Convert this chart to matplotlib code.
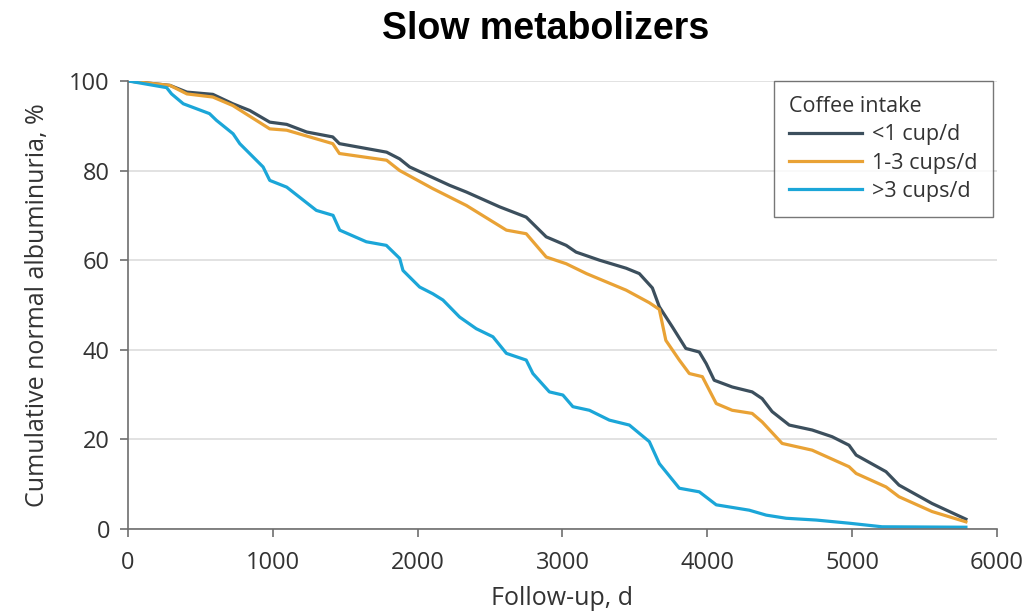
import matplotlib.pyplot as plt
import numpy as np

plt.rcParams['font.family'] = ['Open Sans', 'DejaVu Sans']

# Follow-up days and cumulative normal albuminuria (%)
days_low = [0, 290, 407, 586, 724, 841, 979, 1096, 1234, 1414, 1460, 1786, 1876,
            1945, 2221, 2337, 2566, 2750, 2888, 3026, 3094, 3255, 3440, 3531,
            3621, 3669, 3759, 3852, 3945, 3993, 4048, 4172, 4310, 4379, 4448,
            4566, 4724, 4862, 4979, 5028, 5234, 5324, 5552, 5786]
surv_low = [100, 99.0, 97.5, 97.0, 94.9, 93.4, 90.8, 90.3, 88.6, 87.5, 86.0, 84.1,
            82.6, 80.8, 76.7, 75.2, 71.9, 69.6, 65.2, 63.3, 61.8, 60.0, 58.2, 57.0,
            53.8, 49.6, 45.1, 40.3, 39.5, 36.9, 33.2, 31.7, 30.6, 29.1, 26.2, 23.2,
            22.1, 20.6, 18.7, 16.5, 12.8, 9.8, 5.7, 2.2]

days_mid = [0, 290, 407, 586, 724, 979, 1096, 1414, 1460, 1786, 1876, 2103, 2337,
            2613, 2750, 2888, 3026, 3166, 3440, 3600, 3669, 3714, 3807, 3876,
            3966, 4062, 4172, 4310, 4379, 4517, 4724, 4979, 5028, 5234, 5324,
            5552, 5786]
surv_mid = [100, 99.0, 97.1, 96.4, 94.5, 89.3, 89.0, 86.0, 83.8, 82.3, 80.0, 76.0,
            72.2, 66.7, 65.9, 60.7, 59.2, 57.0, 53.3, 50.5, 49.0, 42.1, 37.7, 34.7,
            34.0, 28.0, 26.5, 25.8, 23.9, 19.1, 17.6, 13.9, 12.4, 9.4, 7.2, 3.9, 1.6]

days_high = [0, 267, 301, 382, 563, 611, 726, 772, 933, 979, 1096, 1301, 1416,
             1462, 1646, 1784, 1876, 1899, 2014, 2105, 2175, 2290, 2405, 2520,
             2613, 2750, 2796, 2910, 3003, 3072, 3186, 3324, 3462, 3600, 3669,
             3807, 3945, 4062, 4290, 4407, 4545, 4752, 4979, 5207, 5786]
surv_high = [100, 98.5, 97.1, 94.9, 92.7, 91.2, 88.2, 86.0, 80.8, 77.8, 76.3, 71.1,
             70.0, 66.7, 64.1, 63.3, 60.4, 57.7, 54.0, 52.5, 51.1, 47.3, 44.7, 42.9,
             39.2, 37.7, 34.7, 30.6, 29.9, 27.3, 26.5, 24.3, 23.2, 19.5, 14.6, 9.1,
             8.3, 5.4, 4.2, 3.1, 2.4, 2.0, 1.3, 0.5, 0.4]

labels = ['<1 cup/d', '1-3 cups/d', '>3 cups/d']
colors = ['#3c4f5d', '#e9a235', '#1ba6d8']

fig = plt.figure(figsize=(10.32, 6.13), dpi=100)
ax = fig.add_axes([0.124, 0.137, 0.842, 0.731])

ax.plot(days_low, surv_low, color=colors[0], lw=2.3, label=labels[0])
ax.plot(days_mid, surv_mid, color=colors[1], lw=2.3, label=labels[1])
ax.plot(days_high, surv_high, color=colors[2], lw=2.3, label=labels[2])

ax.set_xlim(0, 6000)
ax.set_ylim(0, 100)
ax.set_xticks(np.arange(0, 6001, 1000))
ax.set_yticks(np.arange(0, 101, 20))
ax.yaxis.grid(True, color='#dddddd', lw=1.2)
ax.set_axisbelow(True)
for s in ['top', 'right']:
    ax.spines[s].set_visible(False)
for s in ['left', 'bottom']:
    ax.spines[s].set_color('#6e6e6e')
    ax.spines[s].set_linewidth(1.2)
ax.tick_params(length=6, width=1.2, color='#6e6e6e', labelsize=17,
               labelcolor='#333333')
ax.tick_params(axis='x', pad=10)
ax.tick_params(axis='y', pad=7)
ax.set_xlabel('Follow-up, d', fontsize=18, color='#333333', labelpad=8)
ax.set_ylabel('Cumulative normal albuminuria, %', fontsize=18, color='#333333',
              labelpad=14)

leg = ax.legend(title='Coffee intake', loc='upper right', bbox_to_anchor=(0.995, 1.0),
                fontsize=15.5, title_fontsize=15.5, frameon=True, fancybox=False,
                edgecolor='#555555', handlelength=3.4, borderpad=0.7,
                labelspacing=0.34, handletextpad=0.45, borderaxespad=0)
leg._legend_box.align = 'left'
leg.get_frame().set_linewidth(1.0)
for t in leg.get_texts():
    t.set_color('#333333')
leg.get_title().set_color('#333333')

fig.text(0.529, 0.952, 'Slow metabolizers', ha='center', va='center', fontsize=27,
         fontweight='bold', family='Liberation Sans')

fig.savefig('out.png', dpi=100)
plt.close()
